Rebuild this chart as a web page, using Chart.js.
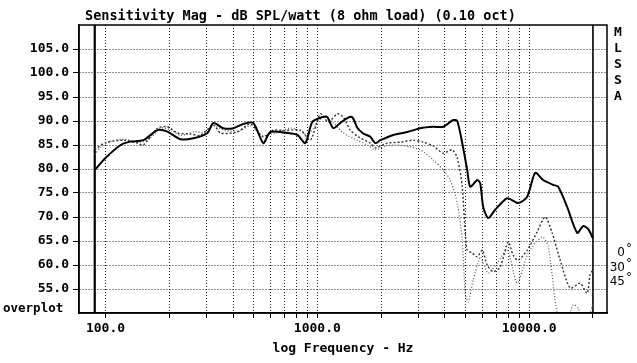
<!DOCTYPE html>
<html>
<head>
<meta charset="utf-8">
<script src="https://cdn.jsdelivr.net/npm/chart.js@4"></script>
<style>
  html, body { margin: 0; padding: 0; background: #fff; }
</style>
</head>
<body>
<canvas id="chart" width="637" height="363"></canvas>
<script>
// on-axis (0 deg) response
const freq0 = [89, 100, 118, 131, 151, 176, 196, 226, 260, 303, 323, 360, 402, 448, 499, 556, 600, 722, 805, 878,
  947, 1056, 1115, 1190, 1284, 1385, 1463, 1544, 1648, 1778, 1878, 1983, 2284, 2658, 3061, 3526, 3929, 4381, 4576,
  4831, 5100, 5270, 5686, 5875, 6067, 6406, 6913, 7876, 8875, 9786, 10674, 11641, 12976, 13708, 15108, 16845,
  17975, 18980, 20000];
const spl0 = [79.8, 82.3, 85.0, 85.7, 86.0, 88.1, 87.8, 86.2, 86.4, 87.5, 89.6, 88.5, 88.5, 89.4, 89.6, 85.4, 87.7,
  87.5, 87.1, 85.4, 89.8, 90.8, 90.8, 88.5, 89.6, 90.6, 90.8, 88.6, 87.4, 86.7, 85.4, 86.0, 87.1, 87.7, 88.5, 88.8,
  88.8, 90.2, 90.0, 85.4, 79.8, 76.3, 77.7, 77.0, 72.1, 69.8, 71.5, 73.9, 72.9, 74.2, 79.2, 77.7, 76.7, 76.3, 72.1,
  66.7, 68.1, 67.5, 65.6];

// 30 deg off-axis
const freq30 = [89, 100, 122, 139, 151, 176, 196, 219, 252, 281, 323, 349, 419, 483, 556, 620, 707, 832, 927, 1033,
  1127, 1243, 1326, 1431, 1562, 1778, 1878, 2140, 2464, 2837, 3162, 3526, 3929, 4334, 4576, 4831, 4991, 5100, 5385,
  5686, 6003, 6337, 6765, 7298, 7962, 8406, 8875, 9786, 10907, 11898, 12836, 14008, 15609, 17400, 18774, 19400, 20000];
const spl30 = [84.0, 85.5, 86.0, 85.5, 85.0, 88.5, 88.8, 87.5, 87.3, 87.0, 89.2, 87.5, 87.7, 89.4, 86.7, 88.1, 88.0,
  88.1, 86.0, 91.5, 89.8, 91.5, 90.8, 88.1, 86.7, 85.4, 84.4, 85.4, 85.6, 86.0, 85.6, 84.8, 83.3, 84.0, 82.3, 76.3,
  66.7, 63.1, 62.5, 61.7, 63.1, 60.0, 58.6, 59.6, 64.8, 62.0, 61.0, 63.1, 66.9, 70.0, 66.7, 61.0, 55.2, 56.2, 54.1,
  58.0, 59.0];

// 45 deg off-axis
const freq45 = [89, 95, 106, 124, 146, 163, 182, 203, 226, 266, 296, 323, 368, 433, 483, 550, 634, 746, 850, 897,
  1067, 1190, 1326, 1544, 1721, 1878, 2094, 2385, 2746, 3061, 3526, 3929, 4241, 4576, 4831, 4991, 5156, 5444, 5875,
  6067, 6406, 7066, 7876, 8779, 9893, 11516, 12290, 13560, 14784, 16126, 17029, 18370, 19400, 20000];
const spl45 = [83.0, 84.5, 85.8, 86.2, 85.5, 86.5, 88.5, 88.2, 87.0, 87.8, 87.5, 89.0, 88.0, 88.0, 89.0, 87.0, 87.5,
  88.5, 87.8, 87.0, 90.8, 89.6, 87.5, 86.0, 85.0, 84.0, 84.8, 85.0, 84.6, 84.0, 81.9, 79.8, 77.7, 72.9, 65.2, 54.1,
  52.3, 56.9, 61.7, 60.5, 58.3, 60.4, 63.1, 56.2, 62.5, 65.8, 64.0, 50.0, 47.0, 51.7, 51.0, 48.0, 50.0, 52.0];

// axis ticks
const gridFreqs = [100, 200, 300, 400, 500, 600, 700, 800, 900, 1000, 2000, 3000, 4000, 5000, 6000, 7000, 8000,
  9000, 10000, 20000];
const labelFreqs = [100, 1000, 10000];
const markerFreqs = [89, 20000];
const yTicks = [55, 60, 65, 70, 75, 80, 85, 90, 95, 100, 105];

const chartTitle = "Sensitivity Mag - dB SPL/watt (8 ohm load) (0.10 oct)";
const xTitle = "log Frequency - Hz";
const sideLetters = ["M", "L", "S", "S", "A"];
const angleLabels = ["0", "30", "45"];

const mono = '"DejaVu Sans Mono", "Liberation Mono", monospace';

const toPoints = (fs, vs) => fs.map((f, i) => ({ x: f, y: vs[i] }));

// frame and the extra labels around the plot
const annotations = {
  id: "annotations",
  afterDraw(chart) {
    const { ctx, chartArea: a } = chart;
    ctx.save();
    ctx.strokeStyle = "#000";
    ctx.lineWidth = 1.5;
    ctx.strokeRect(a.left, a.top, a.right - a.left, a.bottom - a.top);

    ctx.fillStyle = "#000";
    ctx.textBaseline = "middle";
    ctx.textAlign = "left";
    ctx.font = "bold 13.5px " + mono;
    ctx.fillText(chartTitle, 85, 16);

    ctx.font = "bold 12.5px " + mono;
    ctx.fillText("overplot", 3, 309);

    ctx.textAlign = "center";
    ctx.font = "bold 13px " + mono;
    sideLetters.forEach((ch, i) => ctx.fillText(ch, 618, 33 + i * 15.8));

    ctx.font = '12px "DejaVu Sans", sans-serif';
    angleLabels.forEach((t, i) => {
      const y = 253 + i * 14.5;
      ctx.textAlign = "right";
      ctx.fillText(t, 625, y);
      ctx.textAlign = "left";
      ctx.fillText("°", 626, y - 4);
    });
    ctx.restore();
  }
};

const markerSets = markerFreqs.map((f, i) => ({
  data: [{ x: f, y: 50 }, { x: f, y: 110 }],
  borderColor: "#000",
  borderWidth: i === 0 ? 2.2 : 1.6,
  pointRadius: 0
}));

new Chart(document.getElementById("chart"), {
  type: "line",
  data: {
    datasets: [
      {
        label: "0°",
        data: toPoints(freq0, spl0),
        borderColor: "#000",
        borderWidth: 2,
        pointRadius: 0,
        tension: 0.25
      },
      {
        label: "30°",
        data: toPoints(freq30, spl30),
        borderColor: "#333",
        borderWidth: 1.4,
        borderDash: [2, 2],
        pointRadius: 0,
        tension: 0.25
      },
      {
        label: "45°",
        data: toPoints(freq45, spl45),
        borderColor: "#555",
        borderWidth: 1.2,
        borderDash: [1, 2],
        pointRadius: 0,
        tension: 0.25
      },
      ...markerSets
    ]
  },
  options: {
    responsive: false,
    animation: false,
    layout: { padding: { left: 0, right: 30, top: 25, bottom: 0 } },
    plugins: {
      legend: { display: false },
      title: { display: false },
      tooltip: { enabled: false }
    },
    scales: {
      x: {
        type: "logarithmic",
        min: 75,
        max: 23300,
        afterFit: (scale) => { scale.height = 50; },
        afterBuildTicks: (scale) => { scale.ticks = gridFreqs.map((v) => ({ value: v })); },
        ticks: {
          autoSkip: false,
          maxRotation: 0,
          minRotation: 0,
          padding: 3,
          color: "#000",
          font: { family: mono, size: 13, weight: "bold" },
          callback: (v) => (labelFreqs.includes(v) ? v.toFixed(1) : "")
        },
        grid: {
          color: (c) => (c.tick && c.tick.value === 20000 ? "rgba(0,0,0,0)" : "#222"),
          lineWidth: 1,
          tickLength: 5,
          tickColor: "#000",
          tickBorderDash: []
        },
        border: { display: true, color: "#000", width: 1.5, dash: [1, 2] },
        title: {
          display: true,
          text: xTitle,
          color: "#000",
          font: { family: mono, size: 13, weight: "bold" },
          padding: { top: 0, bottom: 7 }
        }
      },
      y: {
        min: 50,
        max: 110,
        afterFit: (scale) => { scale.width = 79; },
        ticks: {
          stepSize: 5,
          padding: 4,
          color: "#000",
          font: { family: mono, size: 13, weight: "bold" },
          callback: (v) => (yTicks.includes(v) ? v.toFixed(1) : "")
        },
        grid: {
          color: (c) => (c.tick && yTicks.includes(c.tick.value) ? "#222" : "rgba(0,0,0,0)"),
          lineWidth: 1,
          tickLength: 6,
          tickColor: (c) => (c.tick && yTicks.includes(c.tick.value) ? "#000" : "rgba(0,0,0,0)"),
          tickBorderDash: []
        },
        border: { display: true, color: "#000", width: 1.5, dash: [1, 2] }
      }
    }
  },
  plugins: [annotations]
});
</script>
</body>
</html>
